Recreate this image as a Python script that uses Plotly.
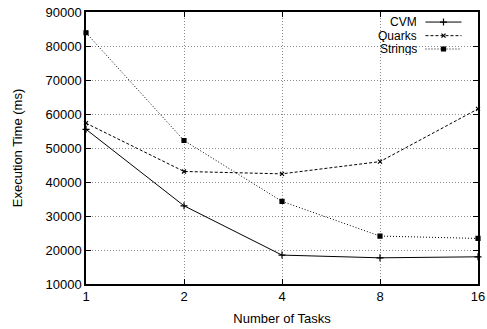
import plotly.graph_objects as go

tasks = [1, 2, 4, 8, 16]
cvm = [55500, 33000, 18500, 17700, 18000]
quarks = [57300, 43100, 42400, 46000, 61500]
strings = [83900, 52200, 34300, 24100, 23400]
names = ["CVM", "Quarks", "Strings"]
y_ticks = [10000, 20000, 30000, 40000, 50000, 60000, 70000, 80000, 90000]

FONT = "Liberation Sans, Arial, sans-serif"
styles = [
    dict(dash="solid", symbol="cross-thin-open", size=5),
    dict(dash="3px,2px", symbol="x-thin-open", size=4),
    dict(dash="1px,2px", symbol="square", size=4),
]

fig = go.Figure()
for name, vals, st in zip(names, [cvm, quarks, strings], styles):
    fig.add_trace(go.Scatter(
        x=tasks, y=vals, mode="lines+markers", name=name,
        line=dict(color="black", width=1, dash=st["dash"]),
        marker=dict(symbol=st["symbol"], size=st["size"], color="black",
                    line=dict(color="black", width=1.2)),
        showlegend=False, cliponaxis=False,
    ))

# custom gnuplot-style legend (text left, sample right)
leg_y = [0.963, 0.913, 0.864]
for name, st, ly in zip(names, styles, leg_y):
    fig.add_trace(go.Scatter(
        x=[0.866, 0.912, 0.958], y=[ly, ly, ly], xaxis="x2", yaxis="y2",
        mode="lines", line=dict(color="black", width=1, dash=st["dash"]),
        showlegend=False, hoverinfo="skip",
    ))
    fig.add_trace(go.Scatter(
        x=[0.912], y=[ly], xaxis="x2", yaxis="y2", mode="markers",
        marker=dict(symbol=st["symbol"], size=st["size"], color="black",
                    line=dict(color="black", width=1.2)),
        showlegend=False, hoverinfo="skip",
    ))
    fig.add_annotation(x=0.848, y=ly, xref="paper", yref="paper", text=name,
                       showarrow=False, xanchor="right", yanchor="middle",
                       font=dict(family=FONT, size=12, color="black"),
                       borderpad=0, height=12, valign="middle")

grid = dict(showgrid=True, gridcolor="#8c8c8c", griddash="1px,2px", gridwidth=1)

fig.update_layout(
    width=487, height=329,
    margin=dict(l=86, r=9, t=12, b=45, autoexpand=False),
    paper_bgcolor="white", plot_bgcolor="white",
    font=dict(family=FONT, size=13, color="black"),
    xaxis=dict(
        type="log", range=[0, 1.2041199826559248],
        tickvals=tasks, ticktext=[str(t) for t in tasks],
        showline=True, linecolor="black", linewidth=1.5, mirror="ticks",
        ticks="inside", ticklen=5, tickcolor="black",
        zeroline=False, **grid,
        title=dict(text="Number of Tasks", standoff=11,
                   font=dict(family=FONT, size=13)),
    ),
    yaxis=dict(
        range=[10000, 90000], tickvals=y_ticks,
        ticktext=[str(v) for v in y_ticks],
        showline=True, linecolor="black", linewidth=1.5, mirror="ticks",
        ticks="inside", ticklen=5, tickcolor="black",
        zeroline=False, **grid,
        title=dict(text="Execution Time (ms)", standoff=20,
                   font=dict(family=FONT, size=13)),
    ),
    xaxis2=dict(overlaying="x", range=[0, 1], visible=False),
    yaxis2=dict(overlaying="y", range=[0, 1], visible=False),
)

fig.write_html("out.html")
